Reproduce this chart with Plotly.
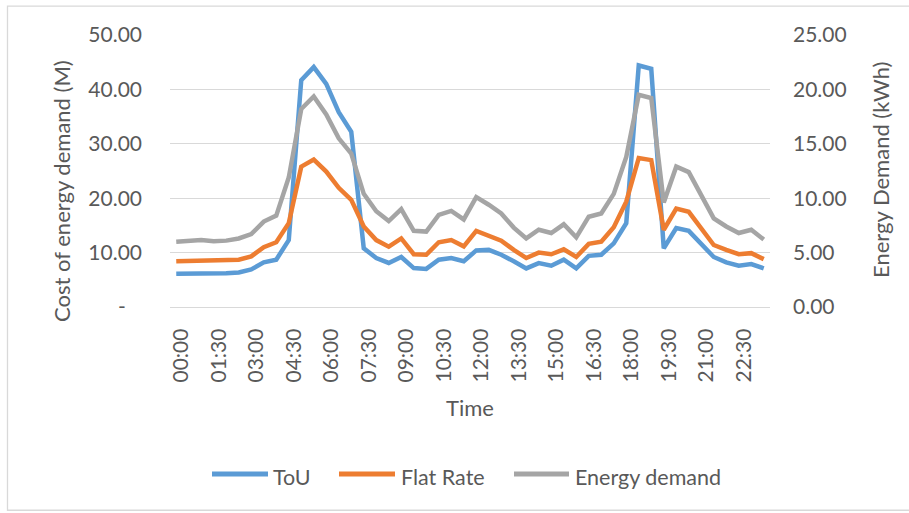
import plotly.graph_objects as go

# Half-hourly time slots
times = [f"{h:02d}:{m:02d}" for h in range(24) for m in (0, 30)]

# Cost of energy demand under each tariff (left axis)
tou_cost = [6.1, 6.1, 6.2, 6.1, 6.2, 6.35, 6.9, 8.2, 8.7, 12.3,
            41.7, 44.1, 41.0, 35.8, 32.2, 10.8, 9.0, 8.1, 9.2, 7.15,
            7.0, 8.7, 9.0, 8.4, 10.4, 10.5, 9.6, 8.4, 7.1, 8.06,
            7.6, 8.7, 7.1, 9.4, 9.6, 11.7, 15.4, 44.4, 43.8, 10.8,
            14.5, 14.0, 11.6, 9.2, 8.2, 7.6, 7.9, 7.1]
flat_cost = [8.4, 8.45, 8.5, 8.4, 8.5, 8.7, 9.3, 11.0, 11.9, 15.4,
             25.8, 27.1, 24.9, 21.9, 19.7, 14.8, 12.3, 11.1, 12.6, 9.7,
             9.6, 11.9, 12.3, 11.15, 14.0, 13.2, 12.2, 10.5, 9.0, 10.0,
             9.7, 10.6, 9.2, 11.6, 12.0, 14.65, 19.35, 27.4, 27.0, 14.2,
             18.1, 17.5, 14.5, 11.4, 10.5, 9.7, 9.9, 8.8]

# Energy demand in kWh (right axis)
demand_kwh = [6.0, 6.05, 6.15, 6.05, 6.1, 6.3, 6.7, 7.85, 8.4, 11.9,
              18.2, 19.35, 17.7, 15.5, 14.1, 10.4, 8.8, 7.9, 9.0, 7.0,
              6.93, 8.46, 8.83, 8.05, 10.1, 9.4, 8.6, 7.3, 6.3, 7.1,
              6.8, 7.6, 6.4, 8.3, 8.6, 10.4, 13.8, 19.5, 19.2, 9.6,
              12.9, 12.4, 10.3, 8.15, 7.4, 6.8, 7.1, 6.2]

left_ticks = [0, 10, 20, 30, 40, 50]
left_tick_text = ["-\u00a0\u00a0\u00a0", "10.00", "20.00", "30.00", "40.00", "50.00"]
right_ticks = [0, 5, 10, 15, 20, 25]

series_names = ["ToU", "Flat Rate", "Energy demand"]
colors = ["#5B9BD5", "#ED7D31", "#A5A5A5"]

FONT = "Lato"
TEXT = "#595959"
GRID = "#D9D9D9"

fig = go.Figure()
fig.add_trace(go.Scatter(x=times, y=tou_cost, name=series_names[0], mode="lines",
                         line=dict(color=colors[0], width=4.5)))
fig.add_trace(go.Scatter(x=times, y=flat_cost, name=series_names[1], mode="lines",
                         line=dict(color=colors[1], width=4.5)))
fig.add_trace(go.Scatter(x=times, y=demand_kwh, name=series_names[2], mode="lines",
                         yaxis="y2", line=dict(color=colors[2], width=4.5)))

# plot area spans pixels 170..770 horizontally and 34.5..307.5 vertically
L, R, T, B = 170, 770, 34.5, 307.5


def px(x):
    return (x - L) / (R - L)


def py(y):
    return (B - y) / (B - T)


tick_font = dict(family=FONT, size=21, color=TEXT)

fig.update_layout(
    width=909, height=513,
    margin=dict(l=L, r=909 - R, t=T, b=513 - B),
    paper_bgcolor="white", plot_bgcolor="white",
    showlegend=False,
    xaxis=dict(
        type="category", range=[-0.5, len(times) - 0.5],
        tickmode="array", tickvals=times[::3], ticktext=times[::3],
        tickangle=-90, tickfont=tick_font, showgrid=False,
        showline=True, linecolor=GRID, linewidth=1.3,
        ticks="", ticklabelstandoff=12, ticklabelshift=5, zeroline=False,
    ),
    yaxis=dict(
        range=[0, 50], tickmode="array", tickvals=left_ticks, ticktext=left_tick_text,
        tickfont=tick_font, showgrid=True, gridcolor=GRID, gridwidth=1.3,
        zeroline=False, ticks="", ticklabelstandoff=27,
    ),
    yaxis2=dict(
        range=[0, 25], overlaying="y", side="right", tickmode="array",
        tickvals=right_ticks, tickformat=".2f", tickfont=tick_font,
        showgrid=False, zeroline=False, ticks="", ticklabelstandoff=22,
    ),
)

title_font = dict(family=FONT, size=22, color=TEXT)
annotations = [
    dict(text="Cost of energy demand (M)", x=px(62), y=py(191), textangle=-90),
    dict(text="Energy Demand (kWh)", x=px(880), y=py(170), textangle=-90),
    dict(text="Time", x=px(470), y=py(408)),
]
for a in annotations:
    fig.add_annotation(xref="paper", yref="paper", showarrow=False,
                       xanchor="center", yanchor="middle", font=title_font, **a)

# legend: coloured line sample followed by the series name
legend_items = [(212, 268, 271), (339, 395, 399), (514, 569, 573)]
for (x0, x1, xt), name, c in zip(legend_items, series_names, colors):
    fig.add_shape(type="line", xref="paper", yref="paper",
                  x0=px(x0), x1=px(x1), y0=py(475), y1=py(475),
                  line=dict(color=c, width=5))
    fig.add_annotation(xref="paper", yref="paper", showarrow=False,
                       x=px(xt), y=py(478), xanchor="left", yanchor="middle",
                       text=name, font=dict(family=FONT, size=21.5, color=TEXT))

# chart border
fig.add_shape(type="rect", xref="paper", yref="paper",
              x0=px(7.5), x1=px(915), y0=py(511.5), y1=py(5.5),
              line=dict(color=GRID, width=1.3), layer="below")

fig.write_html("out.html")
